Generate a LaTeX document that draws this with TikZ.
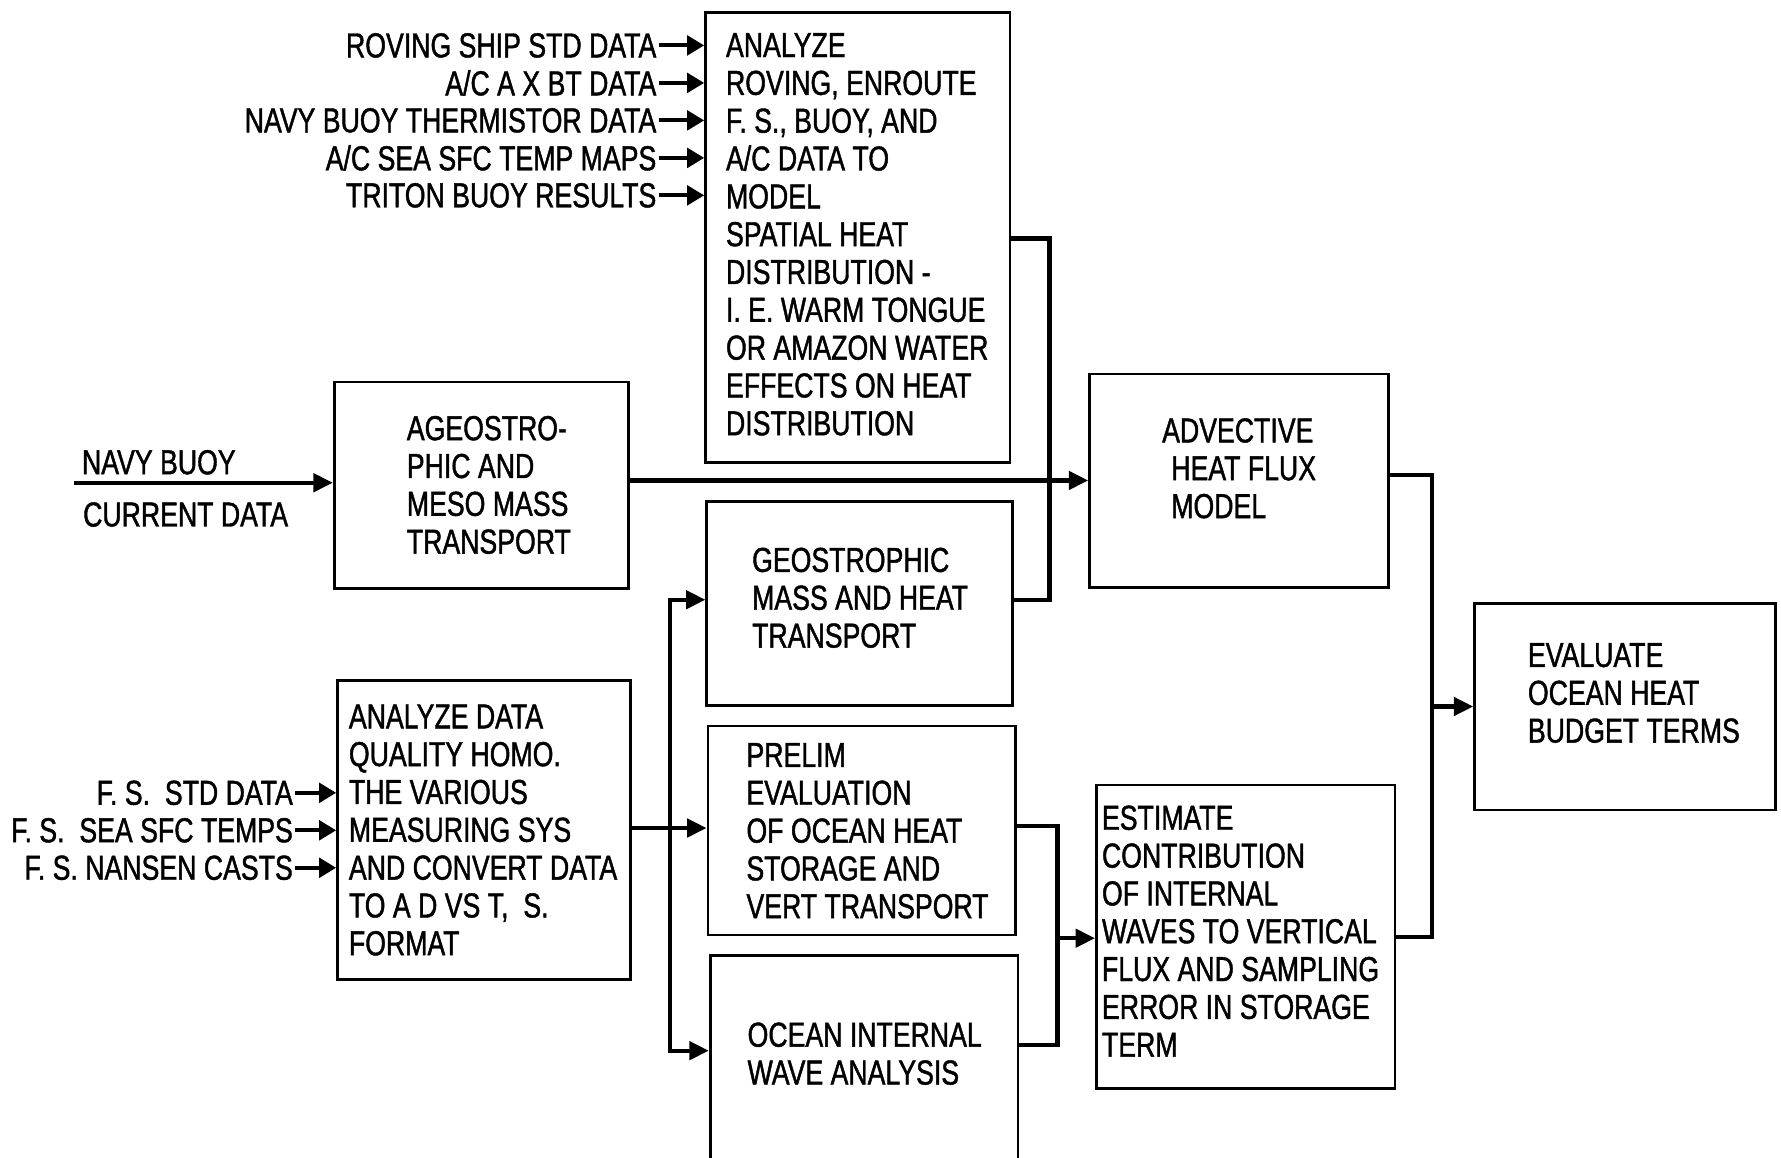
\documentclass[tikz,border=0pt]{standalone}
\usepackage{fontspec}
\newfontfamily\dfont{Liberation Sans}[FakeStretch=0.77,FakeBold=1.2]
\usetikzlibrary{arrows.meta}
\begin{document}
\begin{tikzpicture}[x=1pt,y=-1pt,
  box/.style={draw, line width=2.4pt, anchor=north west, inner sep=0pt},
  txt/.style={anchor=north west, inner sep=0pt, align=left, font=\dfont\fontsize{30.5}{33.3}\selectfont},
  lbl/.style={anchor=east, inner sep=2pt, font=\dfont\fontsize{30.5}{33.3}\selectfont},
  conn/.style={line width=3.6pt},
  arr/.style={line width=3.6pt, -{Triangle[length=17pt,width=16pt]}},
  inarr/.style={line width=3.6pt, -{Triangle[length=15pt,width=17pt]}}]
\fill[white] (0,0) rectangle (1568,1019);
\useasboundingbox (0,0) rectangle (1568,1019);

% boxes
\node[box, minimum width=268pt, minimum height=396pt] (b1) at (620,10) {};
\node[box, minimum width=259pt, minimum height=182pt] (b2) at (293,335) {};
\node[box, minimum width=263pt, minimum height=188pt] (b3) at (958,328) {};
\node[box, minimum width=269pt, minimum height=180pt] (b4) at (621,440) {};
\node[box, minimum width=258pt, minimum height=263pt] (b5) at (296,598) {};
\node[box, minimum width=271pt, minimum height=184pt] (b6) at (622,638) {};
\node[box, minimum width=271pt, minimum height=200pt] (b7) at (624,840) {};
\node[box, minimum width=263pt, minimum height=267pt] (b8) at (964,690) {};
\node[box, minimum width=265pt, minimum height=182pt] (b9) at (1297,530) {};

% box texts
\node[txt] (t1) at (639,29) {ANALYZE\\ROVING, ENROUTE\\F. S., BUOY, AND\\A/C DATA TO\\MODEL\\SPATIAL HEAT\\DISTRIBUTION -\\I. E. WARM TONGUE\\OR AMAZON WATER\\EFFECTS ON HEAT\\DISTRIBUTION};
\node[txt] (t2) at (358,366) {AGEOSTRO-\\PHIC AND\\MESO MASS\\TRANSPORT};
\node[txt] (t3) at (1023,368) {ADVECTIVE\\\hspace*{8pt}HEAT FLUX\\\hspace*{8pt}MODEL};
\node[txt] (t4) at (662,482) {GEOSTROPHIC\\MASS AND HEAT\\TRANSPORT};
\node[txt] (t5) at (307,620) {ANALYZE DATA\\QUALITY HOMO.\\THE VARIOUS\\MEASURING SYS\\AND CONVERT DATA\\TO A D VS T,\ \ S.\\FORMAT};
\node[txt] (t6) at (657,654) {PRELIM\\EVALUATION\\OF OCEAN HEAT\\STORAGE AND\\VERT TRANSPORT};
\node[txt] (t7) at (658,900) {OCEAN INTERNAL\\WAVE ANALYSIS};
\node[txt] (t8) at (970,709) {ESTIMATE\\CONTRIBUTION\\OF INTERNAL\\WAVES TO VERTICAL\\FLUX AND SAMPLING\\ERROR IN STORAGE\\TERM};
\node[txt] (t9) at (1345,566) {EVALUATE\\OCEAN HEAT\\BUDGET TERMS};

% top inputs
\node[lbl] (i1) at (580,40) {ROVING SHIP STD DATA};
\node[lbl] (i2) at (580,73) {A/C A X BT DATA};
\node[lbl] (i3) at (580,106) {NAVY BUOY THERMISTOR DATA};
\node[lbl] (i4) at (580,139) {A/C SEA SFC TEMP MAPS};
\node[lbl] (i5) at (580,172) {TRITON BUOY RESULTS};
\foreach \n in {i1,i2,i3,i4,i5}
  \draw[inarr] (\n.east) -- (\n.east -| b1.west);

% lower-left inputs
\node[lbl] (f1) at (260,698) {F. S.\ \ STD DATA};
\node[lbl] (f2) at (260,731) {F. S.\ \ SEA SFC TEMPS};
\node[lbl] (f3) at (260,764) {F. S.\ NANSEN CASTS};
\foreach \n in {f1,f2,f3}
  \draw[inarr] (\n.east) -- (\n.east -| b5.west);

% navy buoy current data
\node[txt] (nb1) at (72,396) {NAVY BUOY};
\node[txt] (nb2) at (73,442) {CURRENT DATA};
\coordinate (nbs) at (65,425);
\draw[arr] (nbs) -- (nbs -| b2.west);

% ageostrophic -> advective
\coordinate (jA) at (924,423);
\draw[arr] (b2.east |- jA) -- (jA -| b3.west);

% b1 and b4 -> joined line
\coordinate (v1t) at (924,210);
\coordinate (v1b) at (924,528);
\draw[conn] (b1.east |- v1t) -- (v1t) -- (v1b) -- (v1b -| b4.east);

% b5 fan-out
\coordinate (v2m) at (590,729);
\coordinate (v2t) at (590,528);
\coordinate (v2b) at (590,925);
\draw[conn] (b5.east |- v2m) -- (v2m);
\draw[conn] (v2t) -- (v2b);
\draw[arr] ([xshift=-1.8pt]v2t) -- (v2t -| b4.west);
\draw[arr] (v2m) -- (v2m -| b6.west);
\draw[arr] ([xshift=-1.8pt]v2b) -- (v2b -| b7.west);

% b6, b7 -> b8
\coordinate (v3t) at (931,727);
\coordinate (v3m) at (931,826);
\coordinate (v3b) at (931,920);
\draw[conn] (b6.east |- v3t) -- (v3t) -- (v3b) -- (v3b -| b7.east);
\draw[arr] (v3m) -- (v3m -| b8.west);

% b3, b8 -> b9
\coordinate (v4t) at (1261,418);
\coordinate (v4m) at (1261,622);
\coordinate (v4b) at (1261,825);
\draw[conn] (b3.east |- v4t) -- (v4t) -- (v4b) -- (v4b -| b8.east);
\draw[arr] (v4m) -- (v4m -| b9.west);
\end{tikzpicture}
\end{document}
